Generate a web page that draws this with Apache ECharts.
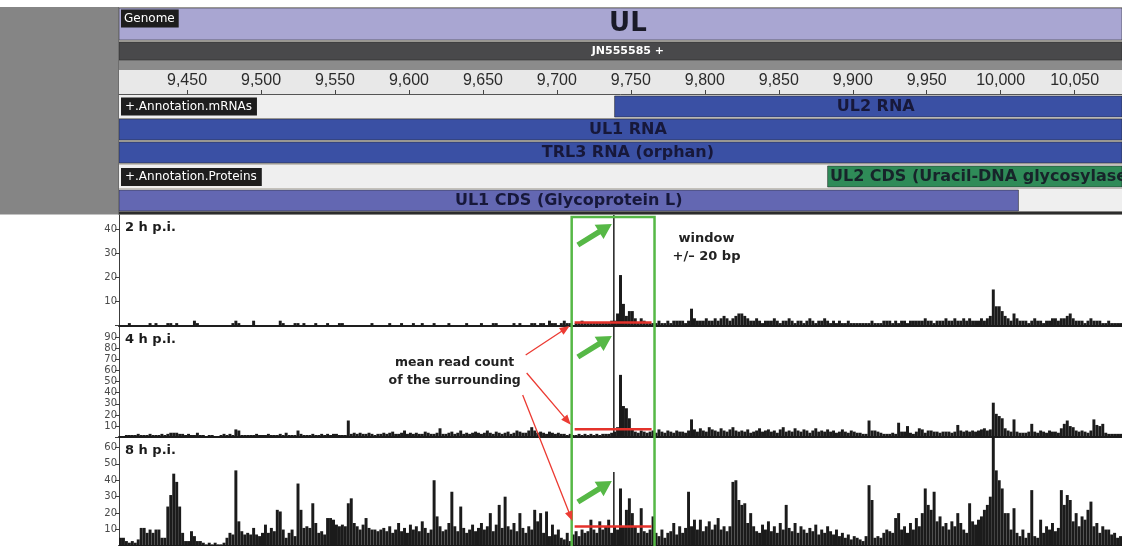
<!DOCTYPE html>
<html>
<head>
<meta charset="utf-8">
<script src="https://cdn.jsdelivr.net/npm/echarts@6/dist/echarts.min.js"></script>
<style>
  html, body { margin: 0; padding: 0; background: #ffffff; }
  #chart { width: 1122px; height: 546px; }
</style>
</head>
<body>
<div id="chart"></div>
<script>
// ---------- genome window (bp) ----------
const viewStart = 9404;
const viewEnd = 10082;
const binSize = 2;
const rulerTicks = [9450, 9500, 9550, 9600, 9650, 9700, 9750, 9800, 9850, 9900, 9950, 10000, 10050];

// ---------- annotation features ----------
const featureNames  = ['UL', 'JN555585 +', 'UL2 RNA', 'UL1 RNA', 'TRL3 RNA (orphan)', 'UL2 CDS (Uracil-DNA glycosylase)', 'UL1 CDS (Glycoprotein L)'];
const featureStarts = [9000, 9000, 9739, 9000, 9000, 9883, 9000];
const featureEnds   = [10600, 10600, 10600, 10600, 10600, 10600, 10012];
const featureTracks = ['genome', 'sequence', 'mrna1', 'mrna2', 'mrna3', 'protein1', 'protein2'];
const trackHeaders  = ['Genome', '+.Annotation.mRNAs', '+.Annotation.Proteins'];

// ---------- read coverage, 2 bp bins from viewStart ----------
const sampleLabels = ['2 h p.i.', '4 h p.i.', '8 h p.i.'];
const coverage2h = [
  0,0,0,1,0,0,0,0,0,0, 1,0,1,0,0,0,1,1,0,1, 0,0,0,0,0,2,1,0,0,0, 0,0,0,0,0,0,0,0,1,2,
  1,0,0,0,0,2,0,0,0,0, 0,0,0,0,2,1,0,0,0,1, 1,0,1,0,0,0,1,0,0,0, 1,0,0,0,1,1,0,0,0,0,
  0,0,0,0,0,1,0,0,0,0, 0,1,0,0,0,1,0,0,0,1, 0,0,1,0,0,0,1,0,0,0, 0,1,0,0,0,0,0,1,0,0,
  0,0,1,0,0,0,1,1,0,0, 0,0,0,1,0,1,0,0,0,1, 1,0,1,1,0,2,1,1,0,1, 2,1,1,0,1,1,2,1,1,1,
  1,1,1,1,1,1,2,2,5,21, 9,4,6,6,3,1,3,2,1,1, 1,1,2,1,1,2,1,2,2,2, 2,1,2,7,3,2,2,2,3,2,
  2,3,2,3,4,3,2,3,4,5, 5,4,3,2,2,3,2,1,2,2, 2,3,2,1,2,2,3,2,1,2, 2,1,2,3,2,1,2,2,3,2,
  1,2,1,2,1,1,2,1,1,1, 1,1,1,1,2,1,1,1,2,2, 2,1,2,1,2,2,1,2,2,2, 2,2,3,2,2,1,2,2,2,3,
  2,2,3,2,2,3,2,3,2,2, 2,3,2,3,4,15,8,8,6,4, 3,2,5,3,2,2,2,1,2,3, 2,2,1,2,2,3,3,2,3,3,
  4,5,3,2,2,2,1,2,3,2, 2,2,1,1,2,1,1,1,1
];
const coverage4h = [
  1,1,2,2,2,2,3,2,2,2, 3,2,2,2,3,2,3,4,4,4, 3,3,2,3,2,2,4,2,2,1, 2,2,1,1,2,3,2,3,2,7,
  6,2,2,2,2,2,3,2,2,2, 3,2,2,2,3,2,4,2,2,2, 6,3,2,2,2,3,2,2,3,2, 3,2,3,3,2,2,2,15,3,4,
  3,4,3,3,4,3,2,3,3,4, 3,4,5,3,3,4,6,3,4,3, 4,3,3,5,4,3,3,4,8,3, 3,4,5,3,4,6,3,4,3,4,
  5,4,3,4,6,4,3,5,4,3, 4,5,3,4,6,5,4,4,6,9, 6,4,5,4,3,5,4,3,4,3, 3,2,3,2,2,3,2,3,2,3,
  2,3,2,3,3,3,4,5,9,56, 28,26,17,8,5,4,6,5,4,5, 6,4,7,5,4,6,5,4,6,5, 5,4,6,16,7,5,8,6,5,9,
  7,6,5,8,6,5,7,9,6,5, 6,5,7,4,5,6,8,5,6,7, 5,6,4,7,9,5,6,5,8,6, 5,7,6,4,6,8,5,6,5,7,
  5,6,4,5,7,5,4,6,5,4, 4,3,3,15,6,6,5,4,3,3, 3,4,3,13,5,5,10,4,3,5, 8,7,4,6,6,5,5,4,5,5,
  5,4,5,11,6,5,6,5,6,5, 6,7,8,6,7,31,21,19,17,8, 6,5,16,5,4,4,4,5,12,5, 4,6,5,4,6,5,5,4,8,12,
  15,10,9,6,5,6,5,4,6,16, 11,10,12,4,3,3,3,3,3
];
const coverage8h = [
  5,5,3,2,3,2,4,11,11,8, 10,8,10,10,5,5,24,31,44,39, 24,8,3,3,9,6,3,3,2,1, 2,1,2,1,1,2,5,8,7,46,
  15,9,7,8,7,11,7,6,8,13, 8,11,9,22,21,10,5,8,10,6, 38,22,11,12,11,26,14,8,9,7, 17,17,16,13,12,13,12,26,29,14,
  12,10,13,17,11,10,10,9,10,11, 9,12,8,10,14,9,11,8,13,10, 12,9,15,11,8,10,40,18,12,9, 10,14,33,12,9,24,11,8,10,13,
  9,11,14,10,12,20,9,13,25,11, 30,12,10,14,9,20,11,8,12,10, 22,15,20,8,21,6,13,7,10,5, 4,8,3,7,9,6,10,8,9,16,
  10,8,15,10,12,16,8,12,10,35, 12,22,29,20,12,8,23,9,8,10, 18,8,6,10,5,8,9,14,7,12, 8,11,33,12,16,10,16,9,12,15,
  10,13,17,10,12,9,12,39,40,28, 25,26,14,20,12,9,8,13,10,15, 9,12,8,14,10,25,11,9,14,8, 12,10,8,11,9,13,7,10,8,12,
  9,7,10,6,8,5,7,4,6,5, 4,3,6,37,28,5,6,5,8,10, 9,8,17,20,10,12,8,14,10,17, 12,20,35,25,22,33,15,18,12,14,
  10,15,12,20,14,10,8,26,15,13, 16,18,22,25,30,70,46,40,35,20, 20,10,23,8,6,10,5,8,34,6, 5,16,8,12,10,14,9,11,34,25,
  31,28,15,20,12,18,16,22,27,12, 14,8,12,10,10,7,8,5,6
];
const peakPosition = 9738;
const peakReads = [58, 112, 45];
const windowBounds = [9710, 9766];
const meanSpan = [9712, 9764];
const meanReads = [1.2, 7.1, 11.8];
const yMaxima = [46, 99, 66];
const yTickLabels = [
  [10, 20, 30, 40],
  [10, 20, 30, 40, 50, 60, 70, 80, 90],
  [10, 20, 30, 40, 50, 60]
];

// ---------- layout ----------
const plotLeft = 119;
const labelViewEnd = 10092;   // the browser view runs a little past the canvas edge; labels centre on it
const covTops = [215, 327, 437.5];
const covHeights = [110.5, 110.2, 110];
const trackRows = {
  genome:   { top: 8,   bottom: 40,  fill: '#a9a6d2', text: '#1a1a28', font: 'bold 26px "DejaVu Sans"' },
  sequence: { top: 42,  bottom: 60,  fill: '#49494b', text: '#ffffff', font: 'bold 11px "DejaVu Sans"' },
  mrna1:    { top: 96,  bottom: 117, fill: '#3a50a4', text: '#17183a', font: 'bold 16px "DejaVu Sans"' },
  mrna2:    { top: 119, bottom: 140, fill: '#3a50a4', text: '#17183a', font: 'bold 16px "DejaVu Sans"' },
  mrna3:    { top: 142, bottom: 163, fill: '#3a50a4', text: '#17183a', font: 'bold 16px "DejaVu Sans"' },
  protein1: { top: 166, bottom: 187, fill: '#2f8b58', text: '#17242a', font: 'bold 16px "DejaVu Sans"' },
  protein2: { top: 190, bottom: 211, fill: '#6367b2', text: '#17183a', font: 'bold 16px "DejaVu Sans"' }
};

const chart = echarts.init(document.getElementById('chart'), null, { renderer: 'canvas' });

function renderFeature(params, api) {
  const row = trackRows[featureTracks[api.value(2)]];
  const x0 = api.coord([Math.max(api.value(0), viewStart), 0])[0];
  const x1 = api.coord([Math.min(api.value(1), viewEnd), 0])[0];
  const xLabelEnd = api.coord([Math.min(api.value(1), labelViewEnd), 0])[0];
  return {
    type: 'group',
    children: [
      { type: 'rect', shape: { x: x0, y: row.top, width: x1 - x0, height: row.bottom - row.top },
        style: { fill: row.fill, stroke: 'rgba(40,40,40,0.55)', lineWidth: 1 } },
      { type: 'text', style: { text: featureNames[api.value(2)], x: (x0 + xLabelEnd) / 2, y: (row.top + row.bottom) / 2 + 0.5,
        align: 'center', verticalAlign: 'middle', font: row.font, fill: row.text } }
    ]
  };
}

function coverageRenderer(yMax) {
  return function (params, api) {
    const v = Math.min(api.value(2), yMax);
    if (!(v > 0)) return null;
    const a = api.coord([api.value(0), 0]);
    const b = api.coord([api.value(1), v]);
    return { type: 'rect', shape: { x: a[0], y: b[1], width: b[0] - a[0], height: a[1] - b[1] },
             style: { fill: '#1b1b1b' } };
  };
}

const coverageSets = [coverage2h, coverage4h, coverage8h];

const grids = [
  { left: plotLeft, right: 0, top: 8, height: 206 },
  { left: plotLeft, right: 0, top: 70, height: 24 }
].concat(covTops.map((t, k) => ({ left: plotLeft, right: 0, top: t, height: covHeights[k] })));

const xAxes = [
  { type: 'value', gridIndex: 0, min: viewStart, max: viewEnd, show: false },
  { type: 'value', gridIndex: 1, min: viewStart, max: viewEnd, position: 'bottom', z: 5,
    axisLine: { show: true, lineStyle: { color: '#555', width: 1 } },
    axisTick: { show: true, inside: true, length: 4, customValues: rulerTicks, lineStyle: { color: '#444' } },
    axisLabel: { inside: true, customValues: rulerTicks, margin: 5, color: '#2b2b2b', fontSize: 16,
      fontFamily: '"Liberation Sans", Arial, sans-serif', formatter: v => v.toLocaleString('en-US') },
    splitLine: { show: false } }
].concat(covTops.map((t, k) => ({
  type: 'value', gridIndex: k + 2, min: viewStart, max: viewEnd,
  axisLine: { show: true, onZero: true, lineStyle: { color: '#1e1e1e', width: 2 } },
  axisTick: { show: false }, axisLabel: { show: false }, splitLine: { show: false }
})));

const yAxes = [
  { type: 'value', gridIndex: 0, min: 0, max: 1, show: false },
  { type: 'value', gridIndex: 1, min: 0, max: 1, show: false }
].concat(covTops.map((t, k) => ({
  type: 'value', gridIndex: k + 2, min: 0, max: yMaxima[k],
  axisLine: { show: true, lineStyle: { color: '#3c3c3c', width: 1 } },
  axisTick: { show: true, length: 4, customValues: [0].concat(yTickLabels[k]), lineStyle: { color: '#3c3c3c' } },
  axisLabel: { customValues: yTickLabels[k], margin: 2, color: '#4a4a4a', fontSize: 10, fontFamily: '"DejaVu Sans", sans-serif' },
  splitLine: { show: false }
})));

const series = [{
  type: 'custom', xAxisIndex: 0, yAxisIndex: 0, renderItem: renderFeature,
  data: featureNames.map((n, i) => [featureStarts[i], featureEnds[i], i]), z: 2
}];
coverageSets.forEach((set, k) => {
  const data = set.map((v, i) => [viewStart + i * binSize, viewStart + (i + 1) * binSize, v]);
  data.push([peakPosition, peakPosition + 1, peakReads[k]]);
  series.push({ type: 'custom', name: sampleLabels[k], xAxisIndex: k + 2, yAxisIndex: k + 2,
    renderItem: coverageRenderer(yMaxima[k]), encode: { x: [0, 1], y: 2 }, data: data, z: 2 });
  series.push({ type: 'line', xAxisIndex: k + 2, yAxisIndex: k + 2, showSymbol: false, z: 6,
    lineStyle: { color: '#e4322b', width: 2.5 },
    data: [[meanSpan[0], meanReads[k]], [meanSpan[1], meanReads[k]]] });
});

// browser chrome: panel frame, row backgrounds, track headers
const chrome = [
  { type: 'rect', shape: { x: 0, y: 7, width: plotLeft, height: 207.5 }, style: { fill: '#858585' }, z: 0 },
  { type: 'rect', shape: { x: plotLeft, y: 7, width: 1122 - plotLeft, height: 207.5 }, style: { fill: '#c4c1bb' }, z: 0 },
  { type: 'rect', shape: { x: plotLeft, y: 60, width: 1122 - plotLeft, height: 10 }, style: { fill: '#8b8b8b' }, z: 0 },
  { type: 'rect', shape: { x: plotLeft, y: 70, width: 1122 - plotLeft, height: 24 }, style: { fill: '#e8e8e8' }, z: 0 },
  { type: 'rect', shape: { x: plotLeft, y: 95, width: 1122 - plotLeft, height: 23 }, style: { fill: '#efefef' }, z: 0 },
  { type: 'rect', shape: { x: plotLeft, y: 165, width: 1122 - plotLeft, height: 23 }, style: { fill: '#efefef' }, z: 0 },
  { type: 'rect', shape: { x: plotLeft, y: 189, width: 1122 - plotLeft, height: 22.5 }, style: { fill: '#efefef' }, z: 0 },
  { type: 'rect', shape: { x: plotLeft, y: 211.5, width: 1122 - plotLeft, height: 3 }, style: { fill: '#2c2c2c' }, z: 3 },
  { type: 'rect', shape: { x: plotLeft - 1, y: 7, width: 1, height: 207.5 }, style: { fill: '#6d6d6d' }, z: 3 },
  { type: 'text', z: 10, x: 121, y: 9.5, style: { text: trackHeaders[0], fill: '#ffffff', backgroundColor: '#1d1d1d',
      padding: [3, 4, 3, 3], font: '12px "DejaVu Sans"' } },
  { type: 'text', z: 10, x: 121, y: 97.5, style: { text: trackHeaders[1], fill: '#ffffff', backgroundColor: '#1d1d1d',
      padding: [3, 5, 3, 4], font: '12px "DejaVu Sans"' } },
  { type: 'text', z: 10, x: 121, y: 168, style: { text: trackHeaders[2], fill: '#ffffff', backgroundColor: '#1d1d1d',
      padding: [3, 5, 3, 4], font: '12px "DejaVu Sans"' } }
].concat(sampleLabels.map((s, k) => ({
  type: 'text', z: 10, x: plotLeft + 6, y: covTops[k] + 13,
  style: { text: s, fill: '#1b1b1b', font: 'bold 13px "DejaVu Sans"', verticalAlign: 'middle' }
})));

chart.setOption({
  animation: false,
  backgroundColor: '#ffffff',
  grid: grids,
  xAxis: xAxes,
  yAxis: yAxes,
  series: series,
  graphic: chrome
});

// ---------- call-outs tied to the coverage axes ----------
function arrowPolygon(tail, tip, shaft, headLen, headW) {
  const dx = tip[0] - tail[0], dy = tip[1] - tail[1];
  const len = Math.hypot(dx, dy);
  const ux = dx / len, uy = dy / len, nx = -uy, ny = ux;
  const bx = tip[0] - ux * headLen, by = tip[1] - uy * headLen;
  return [
    [tail[0] + nx * shaft / 2, tail[1] + ny * shaft / 2],
    [bx + nx * shaft / 2, by + ny * shaft / 2],
    [bx + nx * headW / 2, by + ny * headW / 2],
    tip,
    [bx - nx * headW / 2, by - ny * headW / 2],
    [bx - nx * shaft / 2, by - ny * shaft / 2],
    [tail[0] - nx * shaft / 2, tail[1] - ny * shaft / 2]
  ];
}

const toPx = (k, p) => chart.convertToPixel({ gridIndex: k + 2 }, p);
const green = '#56b846', red = '#ec3b33';
const callouts = [];

const xL = toPx(0, [windowBounds[0], 0])[0];
const xR = toPx(0, [windowBounds[1], 0])[0];
const boxTop = covTops[0] + 2;
callouts.push({ type: 'polyline', z: 30, shape: { points: [[xL, 600], [xL, boxTop], [xR, boxTop], [xR, 600]] },
  style: { stroke: green, lineWidth: 2.5, fill: null } });

peakReads.forEach((v, k) => {
  const top = toPx(k, [peakPosition + 0.5, Math.min(v, yMaxima[k])]);
  const tip = [top[0] - 2, top[1] + 9];
  const tail = [tip[0] - 34, tip[1] + 21];
  callouts.push({ type: 'polygon', z: 31, shape: { points: arrowPolygon(tail, tip, 5.5, 15, 17) }, style: { fill: green } });
});

callouts.push({ type: 'text', z: 31, x: xR + 52, y: covTops[0] + 24,
  style: { text: 'window', font: 'bold 13px "DejaVu Sans"', fill: '#222', align: 'center', verticalAlign: 'middle' } });
callouts.push({ type: 'text', z: 31, x: xR + 52, y: covTops[0] + 42,
  style: { text: '+/\u2013 20 bp', font: 'bold 13px "DejaVu Sans"', fill: '#222', align: 'center', verticalAlign: 'middle' } });

const textX = xL - 117, textY = covTops[1] + 36;
callouts.push({ type: 'text', z: 31, x: textX, y: textY,
  style: { text: 'mean read count', font: 'bold 12.5px "DejaVu Sans"', fill: '#222', align: 'center', verticalAlign: 'middle' } });
callouts.push({ type: 'text', z: 31, x: textX, y: textY + 18,
  style: { text: 'of the surrounding', font: 'bold 12.5px "DejaVu Sans"', fill: '#222', align: 'center', verticalAlign: 'middle' } });

const tails = [[textX + 71, textY - 8], [textX + 72, textY + 10], [textX + 68, textY + 32]];
meanReads.forEach((m, k) => {
  const end = toPx(k, [meanSpan[0], m]);
  const tail = tails[k];
  const dx = end[0] - tail[0], dy = end[1] - tail[1], len = Math.hypot(dx, dy);
  const tip = [end[0] - dx / len * 6, end[1] - dy / len * 6];
  callouts.push({ type: 'polygon', z: 31, shape: { points: arrowPolygon(tail, tip, 1.3, 10, 8) }, style: { fill: red } });
});

chart.setOption({ graphic: chrome.concat(callouts) });
</script>
</body>
</html>
